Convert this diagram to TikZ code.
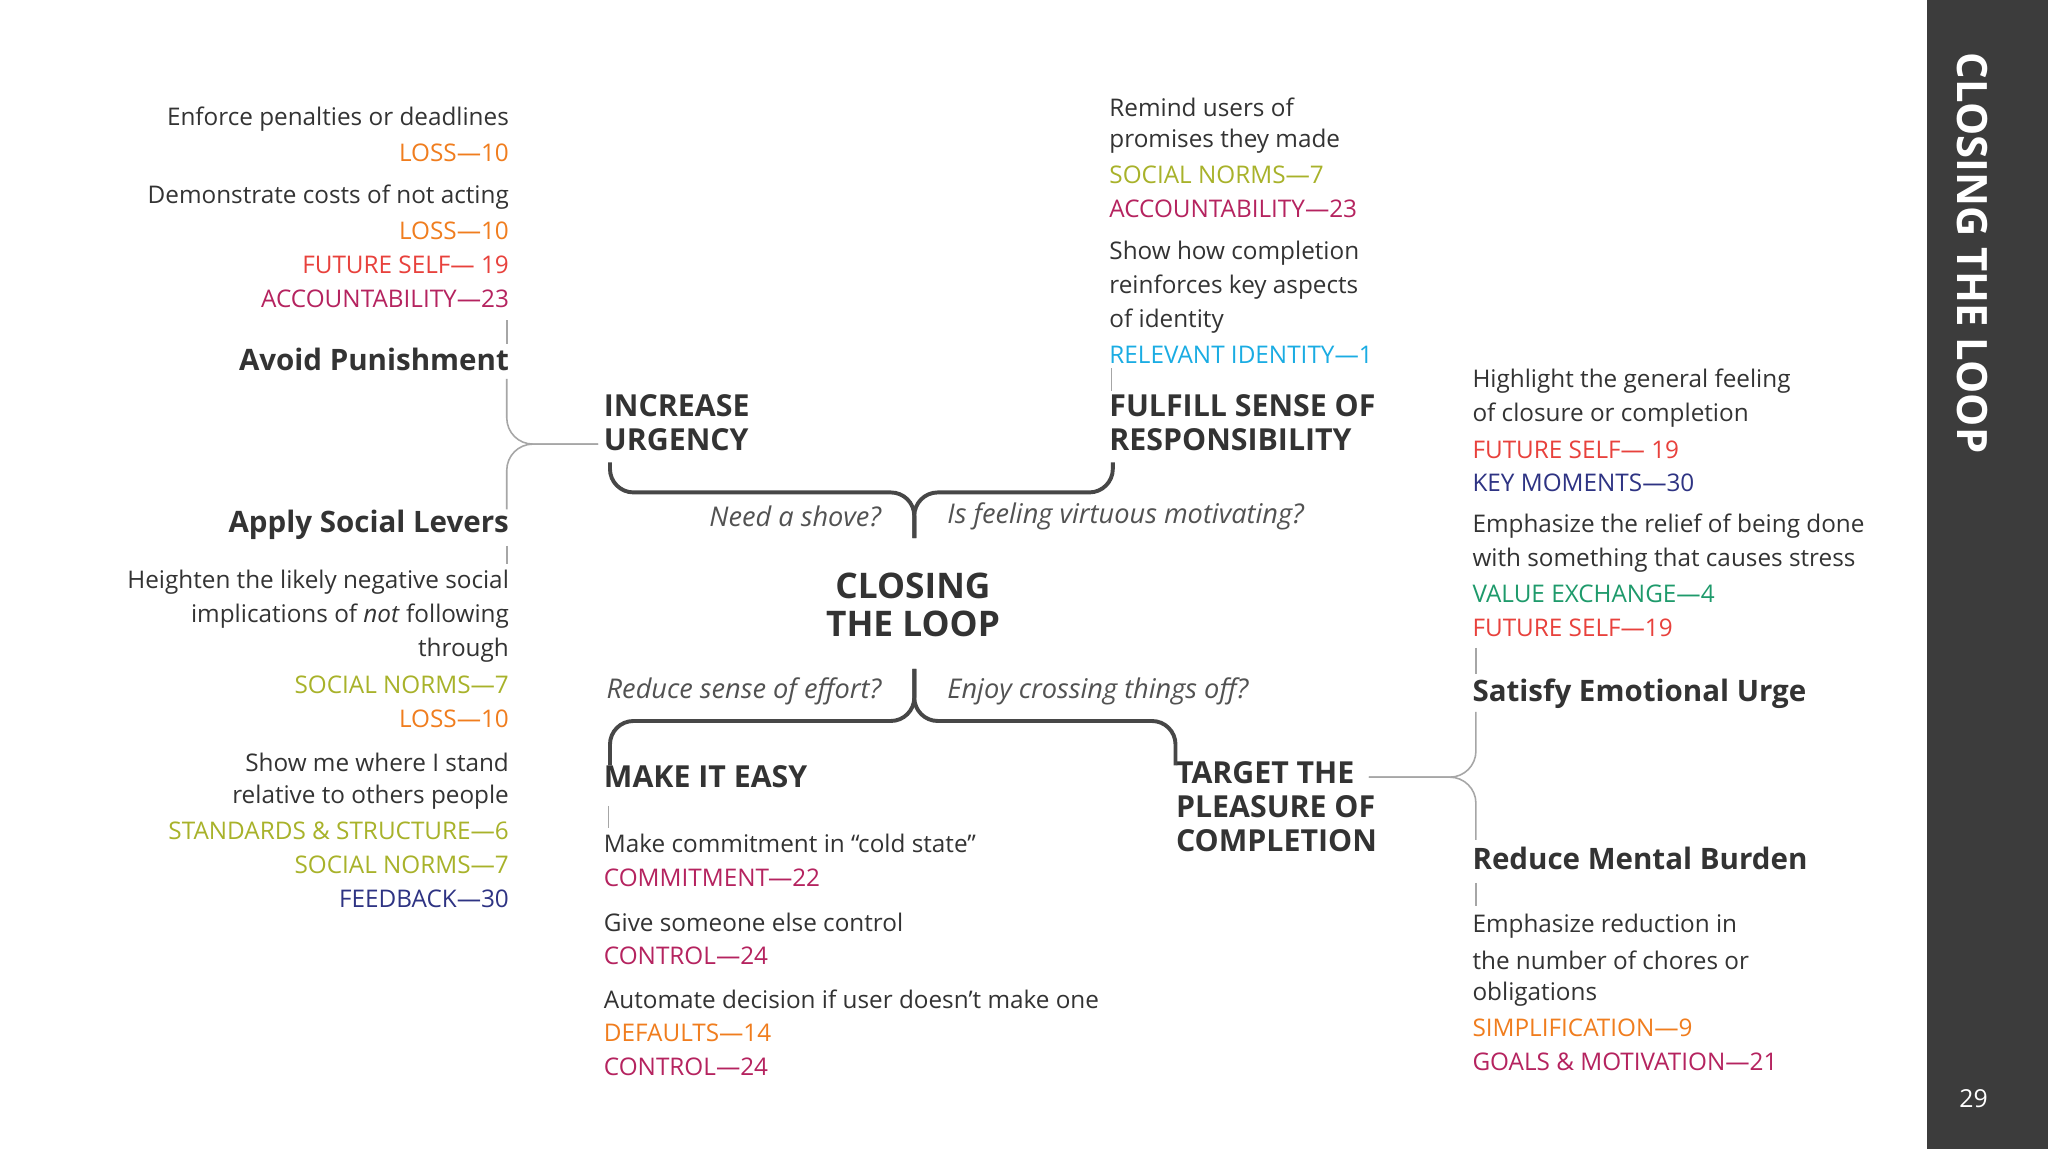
\documentclass[tikz,border=0pt]{standalone}
\usepackage{fontspec}
\setmainfont{Open Sans}
\definecolor{cLoss}{HTML}{F07D1E}
\definecolor{cFut}{HTML}{E8413C}
\definecolor{cAcc}{HTML}{B5235F}
\definecolor{cSoc}{HTML}{A8B22A}
\definecolor{cNavy}{HTML}{2E3383}
\definecolor{cCyan}{HTML}{1AACE3}
\definecolor{cGreen}{HTML}{1E9A6B}
\definecolor{cText}{HTML}{333333}
\definecolor{cBar}{HTML}{3C3C3C}
\begin{document}
\begin{tikzpicture}[x=0.5pt,y=-0.5pt,
  t/.style={inner sep=0pt,font=\fontsize{9.3}{13}\selectfont,text=cText},
  tl/.style={t,anchor=west},
  tr/.style={t,anchor=east},
  lab/.style={inner sep=0pt,font=\fontsize{9.3}{13}\selectfont},
  ll/.style={lab,anchor=west},
  lr/.style={lab,anchor=east},
  sub/.style={inner sep=0pt,font=\fontsize{11.3}{13}\selectfont\bfseries,text=cText},
  head/.style={inner sep=0pt,font=\fontsize{11.6}{13}\selectfont\bfseries,text=cText,align=left,anchor=north west},
  q/.style={inner sep=0pt,font=\fontsize{10.4}{13}\selectfont\itshape,text=cText!85},
  thick line/.style={draw=cText!90,line width=1.5pt,rounded corners=9pt},
  thin line/.style={draw=gray!70,line width=0.6pt,rounded corners=10pt}]
\useasboundingbox (0,0) rectangle (1568,880);
\fill[white] (0,0) rectangle (1568,880);
\fill[cBar] (1475,0) rectangle (1568,880);
\node[rotate=-90,anchor=west,inner sep=0pt,text=white,font=\fontsize{16}{17}\selectfont\bfseries] (title) at (1510,40) {CLOSING THE LOOP};
\node[text=white,inner sep=0pt,font=\fontsize{9.5}{11}\selectfont] (pg) at (1511,841) {29};

% left column
\node[tr] (a1) at (390,91) {Enforce penalties or deadlines};
\node[lr,text=cLoss] (a2) at (390,117) {LOSS—10};
\node[tr] (a3) at (390,151) {Demonstrate costs of not acting};
\node[lr,text=cLoss] (a4) at (390,177) {LOSS—10};
\node[lr,text=cFut] (a5) at (390,203) {FUTURE SELF— 19};
\node[lr,text=cAcc] (a6) at (390,229) {ACCOUNTABILITY—23};
\node[sub,anchor=east] (avoid) at (390,275) {Avoid Punishment};
\node[sub,anchor=east] (apply) at (390,402) {Apply Social Levers};
\node[tr] (b1) at (390,446) {Heighten the likely negative social};
\node[tr] (b2) at (390,472) {implications of \textit{not} following};
\node[tr] (b3) at (390,498) {through};
\node[lr,text=cSoc] (b4) at (390,524) {SOCIAL NORMS—7};
\node[lr,text=cLoss] (b5) at (390,550) {LOSS—10};
\node[tr] (b6) at (390,584) {Show me where I stand};
\node[tr] (b7) at (390,610) {relative to others people};
\node[lr,text=cSoc] (b8) at (390,636) {STANDARDS \& STRUCTURE—6};
\node[lr,text=cSoc] (b9) at (390,662) {SOCIAL NORMS—7};
\node[lr,text=cNavy] (b10) at (390,688) {FEEDBACK—30};

% top middle
\node[tl] (c1) at (849,82) {Remind users of};
\node[tl] (c2) at (849,108) {promises they made};
\node[ll,text=cSoc] (c3) at (849,134) {SOCIAL NORMS—7};
\node[ll,text=cAcc] (c4) at (849,160) {ACCOUNTABILITY—23};
\node[tl] (c5) at (849,194) {Show how completion};
\node[tl] (c6) at (849,220) {reinforces key aspects};
\node[tl] (c7) at (849,246) {of identity};
\node[ll,text=cCyan] (c8) at (849,272) {RELEVANT IDENTITY—1};

% heads
\node[head] (urg) at (462,302) {INCREASE\\URGENCY};
\node[head] (ful) at (849,302) {FULFILL SENSE OF\\RESPONSIBILITY};
\node[head] (easy) at (462,586) {MAKE IT EASY};
\node[head] (tgt) at (900,583) {TARGET THE\\PLEASURE OF\\COMPLETION};
\node[inner sep=0pt,align=center,font=\fontsize{13.5}{14.5}\selectfont\bfseries,text=cText] (ctr) at (699,463) {CLOSING\\THE LOOP};

\node[q,anchor=east] (q1) at (675,395) {Need a shove?};
\node[q,anchor=west] (q2) at (725,395) {Is feeling virtuous motivating?};
\node[q,anchor=east] (q3) at (675,529) {Reduce sense of effort?};
\node[q,anchor=west] (q4) at (725,529) {Enjoy crossing things off?};

% bottom middle
\node[tl] (d1) at (462,646) {Make commitment in “cold state”};
\node[ll,text=cAcc] (d2) at (462,672) {COMMITMENT—22};
\node[tl] (d3) at (462,706) {Give someone else control};
\node[ll,text=cAcc] (d4) at (462,732) {CONTROL—24};
\node[tl] (d5) at (462,765) {Automate decision if user doesn’t make one};
\node[ll,text=cLoss] (d6) at (462,791) {DEFAULTS—14};
\node[ll,text=cAcc] (d7) at (462,817) {CONTROL—24};

% right column
\node[tl] (e1) at (1127,292) {Highlight the general feeling};
\node[tl] (e2) at (1127,318) {of closure or completion};
\node[ll,text=cFut] (e3) at (1127,344) {FUTURE SELF— 19};
\node[ll,text=cNavy] (e4) at (1127,370) {KEY MOMENTS—30};
\node[tl] (e5) at (1127,403) {Emphasize the relief of being done};
\node[tl] (e6) at (1127,429) {with something that causes stress};
\node[ll,text=cGreen] (e7) at (1127,455) {VALUE EXCHANGE—4};
\node[ll,text=cFut] (e8) at (1127,481) {FUTURE SELF—19};
\node[sub,anchor=west] (sat) at (1127,531) {Satisfy Emotional Urge};
\node[sub,anchor=west] (red) at (1127,657) {Reduce Mental Burden};
\node[tl] (f1) at (1127,709) {Emphasize reduction in};
\node[tl] (f2) at (1127,735) {the number of chores or};
\node[tl] (f3) at (1127,761) {obligations};
\node[ll,text=cLoss] (f4) at (1127,787) {SIMPLIFICATION—9};
\node[ll,text=cAcc] (f5) at (1127,813) {GOALS \& MOTIVATION—21};

% thick connectors
\coordinate (top) at (700,412);
\coordinate (bot) at (700,512);
\draw[thick line] (467,354) -- (467,377) -- (700,377) -- (top);
\draw[thick line] (852,354) -- (852,377) -- (700,377) -- (top);
\draw[thick line] (bot) -- (700,552) -- (467,552) -- (467,586);
\draw[thick line] (bot) -- (700,552) -- (900,552) -- (900,586);

% thin connectors
\draw[thin line] (388,290) -- (388,340) -- (458,340);
\draw[thin line] (388,390) -- (388,340) -- (458,340);
\draw[thin line] (1130,545) -- (1130,595) -- (1048,595);
\draw[thin line] (1130,643) -- (1130,595) -- (1048,595);
\draw[gray!70,line width=0.6pt] (388,245) -- (388,263);
\draw[gray!70,line width=0.6pt] (388,418) -- (388,432);
\draw[gray!70,line width=0.6pt] (466,617) -- (466,634);
\draw[gray!70,line width=0.6pt] (851,282) -- (851,299);
\draw[gray!70,line width=0.6pt] (1130,496) -- (1130,516);
\draw[gray!70,line width=0.6pt] (1130,676) -- (1130,694);
\end{tikzpicture}
\end{document}
